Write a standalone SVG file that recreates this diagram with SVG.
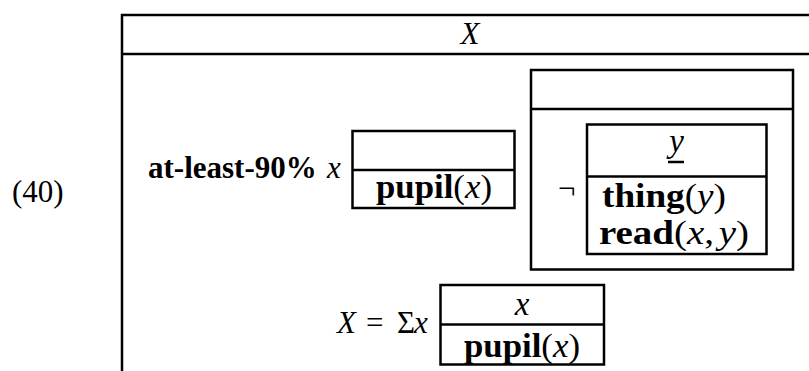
<svg xmlns="http://www.w3.org/2000/svg" width="809" height="371" viewBox="0 0 809 371">
<style>
.t{font-family:"Liberation Serif","Times New Roman",serif;font-size:31px;fill:#000}
.mt{font-size:33px}
.b{font-weight:bold}
.i{font-style:italic}
.m{text-anchor:middle}
.box{fill:none;stroke:#000;stroke-width:2.5}
.ln{stroke:#000;stroke-width:2.5}
</style>
<rect width="809" height="371" fill="#fff"/>
<text class="t" x="12" y="202">(40)</text>
<g id="outer">
<path class="box" d="M122,380 V15 H820 M122,54 H820"/>
<text class="t i m" x="470" y="44">X</text>
</g>
<g id="quant">
<text class="t b" x="148" y="178">at-least-90%</text>
<text class="t i" x="327" y="178">x</text>
</g>
<g id="box-pupil">
<rect class="box" x="352.5" y="131" width="162" height="77"/>
<line class="ln" x1="352.5" y1="170" x2="514.5" y2="170"/>
<text class="t mt" x="376" y="198" textLength="116" lengthAdjust="spacingAndGlyphs"><tspan class="b">pupil</tspan>(<tspan class="i">x</tspan>)</text>
</g>
<g id="neg">
<rect class="box" x="531" y="70" width="262" height="199.5"/>
<line class="ln" x1="531" y1="109" x2="793" y2="109"/>
<text class="t" x="558" y="199" font-size="33">¬</text>
</g>
<g id="box-thing">
<rect class="box" x="587" y="124.5" width="179.5" height="129.5"/>
<line class="ln" x1="587" y1="176.5" x2="766.5" y2="176.5"/>
<text class="t mt i m" x="676.5" y="152">y</text>
<line class="ln" x1="668" y1="162" x2="684" y2="162"/>
<text class="t mt" x="602" y="207" textLength="124" lengthAdjust="spacingAndGlyphs"><tspan class="b">thing</tspan>(<tspan class="i">y</tspan>)</text>
<text class="t mt" x="599" y="244" textLength="150" lengthAdjust="spacingAndGlyphs"><tspan class="b">read</tspan>(<tspan class="i">x</tspan>,<tspan class="i" dx="4">y</tspan>)</text>
</g>
<g id="sum">
<text class="t i" x="337" y="333">X</text>
<text class="t" x="366" y="333">=</text>
<text class="t" x="397" y="333">Σ</text>
<text class="t i" x="414" y="333">x</text>
</g>
<g id="box-sum">
<rect class="box" x="440.5" y="285" width="163.5" height="79.5"/>
<line class="ln" x1="440.5" y1="324.5" x2="604" y2="324.5"/>
<text class="t mt i m" x="522" y="315">x</text>
<text class="t mt" x="464" y="357" textLength="116" lengthAdjust="spacingAndGlyphs"><tspan class="b">pupil</tspan>(<tspan class="i">x</tspan>)</text>
</g>
<g id="connectors"/>
</svg>
